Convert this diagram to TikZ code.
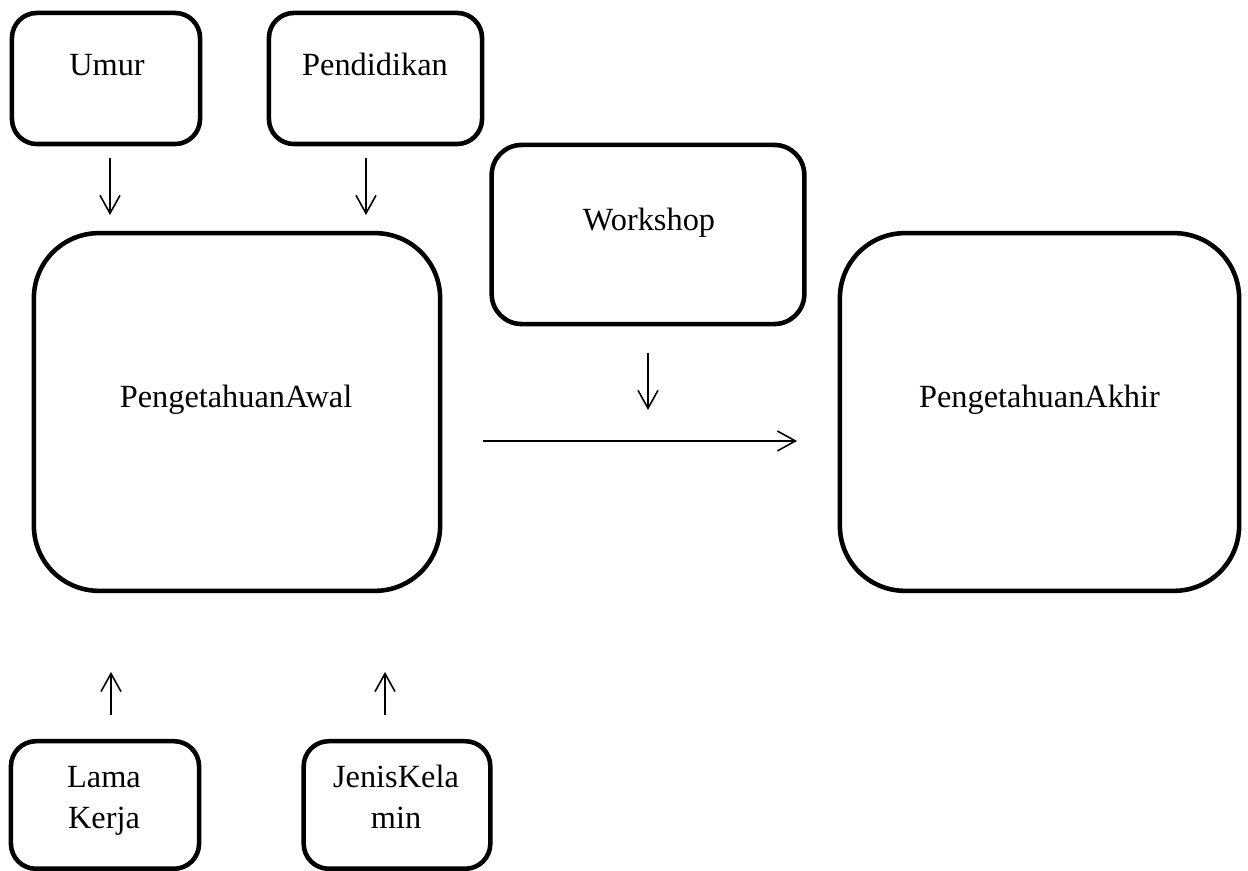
\documentclass[tikz,border=0pt]{standalone}
\usepackage{fontspec}
\setmainfont{Liberation Serif}
\usetikzlibrary{arrows.meta}
\begin{document}
\begin{tikzpicture}[x=0.01cm,y=-0.01cm,
  box/.style={draw=black,line width=1.3pt,rounded corners=0.25cm,inner sep=0pt},
  bigbox/.style={box,rounded corners=0.65cm},
  lbl/.style={font=\fontsize{9.2pt}{11pt}\selectfont,anchor=base,inner sep=0pt},
  arr/.style={line width=0.45pt,-{Straight Barb[length=0.18cm,width=0.2cm]}}]
\useasboundingbox (0,0) rectangle (1248,871);
% boxes
\node[box,minimum width=1.88cm,minimum height=1.31cm] (umur) at (106,78.5) {};
\node[box,minimum width=2.13cm,minimum height=1.31cm] (pend) at (375.5,78.5) {};
\node[box,rounded corners=0.3cm,minimum width=3.125cm,minimum height=1.79cm] (work) at (648,234.5) {};
\node[bigbox,minimum width=4.06cm,minimum height=3.575cm] (awal) at (237,412) {};
\node[bigbox,minimum width=3.99cm,minimum height=3.575cm] (akhir) at (1039.5,412) {};
\node[box,minimum width=1.88cm,minimum height=1.275cm] (lama) at (105,805) {};
\node[box,minimum width=1.865cm,minimum height=1.275cm] (jenis) at (397,805) {};
% labels
\node[lbl] (tumur) at (107,76) {Umur};
\node[lbl] (tpend) at (375,76) {Pendidikan};
\node[lbl] (twork) at (649,231) {Workshop};
\node[lbl] (tawal) at (236,408) {PengetahuanAwal};
\node[lbl] (takhir) at (1039.5,408) {PengetahuanAkhir};
\node[lbl] (tlama1) at (104,788) {Lama};
\node[lbl] (tlama2) at (104,829) {Kerja};
\node[lbl] (tjenis1) at (396,788) {JenisKela};
\node[lbl] (tjenis2) at (396,829) {min};
% connector end points
\coordinate (a1s) at (110,158); \coordinate (a1e) at (110,215);
\coordinate (a2s) at (366,158); \coordinate (a2e) at (366,215);
\coordinate (a3s) at (648,353); \coordinate (a3e) at (648,410);
\coordinate (a4s) at (483,441); \coordinate (a4e) at (797,441);
\coordinate (a5s) at (111,715); \coordinate (a5e) at (111,672);
\coordinate (a6s) at (385,715); \coordinate (a6e) at (385,672);
\draw[arr] (a1s) -- (a1e);
\draw[arr] (a2s) -- (a2e);
\draw[arr] (a3s) -- (a3e);
\draw[arr] (a4s) -- (a4e);
\draw[arr] (a5s) -- (a5e);
\draw[arr] (a6s) -- (a6e);
\end{tikzpicture}
\end{document}
